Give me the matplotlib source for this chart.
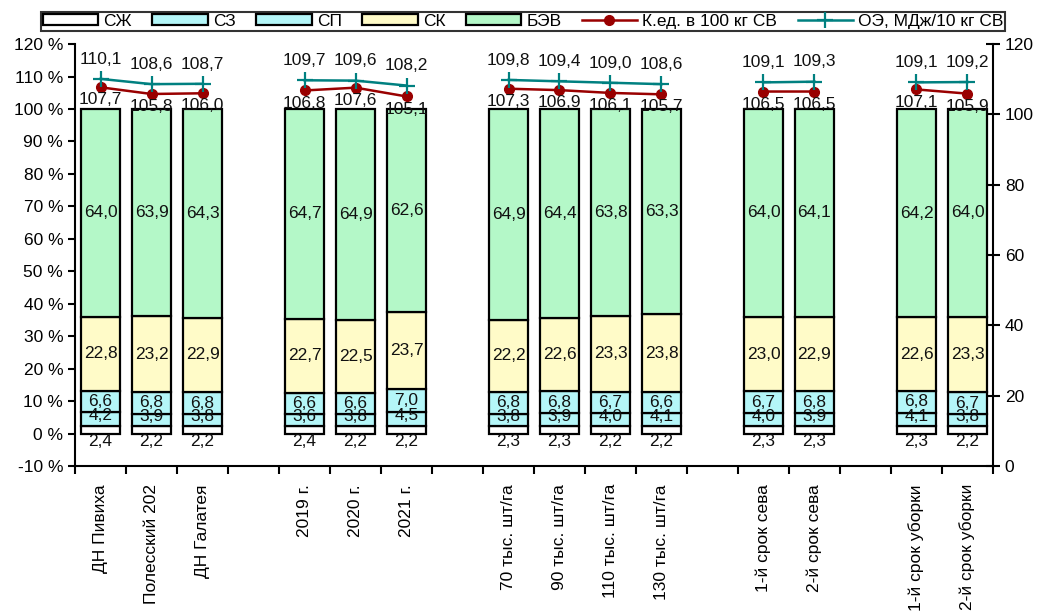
import numpy as np
import matplotlib
matplotlib.use("Agg")
import matplotlib.pyplot as plt
from matplotlib.ticker import FuncFormatter

plt.rcParams['font.family'] = ['Liberation Sans', 'DejaVu Sans']

# categories (empty strings are gaps between groups)
categories = ['ДН Пивиха', 'Полесский 202', 'ДН Галатея', '',
              '2019 г.', '2020 г.', '2021 г.', '',
              '70 тыс. шт/га', '90 тыс. шт/га', '110 тыс. шт/га', '130 тыс. шт/га', '',
              '1-й срок сева', '2-й срок сева', '',
              '1-й срок уборки', '2-й срок уборки']

nan = np.nan
szh = [2.4, 2.2, 2.2, nan, 2.4, 2.2, 2.2, nan, 2.3, 2.3, 2.2, 2.2, nan, 2.3, 2.3, nan, 2.3, 2.2]
sz = [4.2, 3.9, 3.8, nan, 3.6, 3.8, 4.5, nan, 3.8, 3.9, 4.0, 4.1, nan, 4.0, 3.9, nan, 4.1, 3.8]
sp = [6.6, 6.8, 6.8, nan, 6.6, 6.6, 7.0, nan, 6.8, 6.8, 6.7, 6.6, nan, 6.7, 6.8, nan, 6.8, 6.7]
sk = [22.8, 23.2, 22.9, nan, 22.7, 22.5, 23.7, nan, 22.2, 22.6, 23.3, 23.8, nan, 23.0, 22.9, nan, 22.6, 23.3]
bev = [64.0, 63.9, 64.3, nan, 64.7, 64.9, 62.6, nan, 64.9, 64.4, 63.8, 63.3, nan, 64.0, 64.1, nan, 64.2, 64.0]

ked = [107.7, 105.8, 106.0, nan, 106.8, 107.6, 105.1, nan, 107.3, 106.9, 106.1, 105.7, nan, 106.5, 106.5, nan, 107.1, 105.9]
oe = [110.1, 108.6, 108.7, nan, 109.7, 109.6, 108.2, nan, 109.8, 109.4, 109.0, 108.6, nan, 109.1, 109.3, nan, 109.1, 109.2]

series = [('СЖ', szh, '#ffffff'), ('СЗ', sz, '#b4f6f8'), ('СП', sp, '#b4f6f8'),
          ('СК', sk, '#fffbc8'), ('БЭВ', bev, '#b4f8c8')]


def fmt(v):
    return f'{v:.1f}'.replace('.', ',')


fig = plt.figure(figsize=(10.38, 6.12), dpi=100)
ax = fig.add_axes([0.0723, 0.2386, 0.8843, 0.6894])
x = np.arange(len(categories))
bottom = np.zeros(len(categories))
handles = []
for i, (name, vals, color) in enumerate(series):
    v = np.array(vals, dtype=float)
    b = ax.bar(x, v, 0.76, bottom=bottom, color=color, edgecolor='black', linewidth=1.6, label=name)
    handles.append(b)
    for xi, vi, bi in zip(x, v, bottom):
        if np.isnan(vi):
            continue
        if i == 0:
            y = -2.4
        elif i == 1:
            y = bi + vi / 2 + 1.0
        else:
            y = bi + vi / 2
        ax.text(xi, y, fmt(vi), ha='center', va='center', fontsize=12.5, color='#111111')
    bottom = bottom + np.nan_to_num(v)

ax.set_ylim(-10, 120)
ax.set_yticks(np.arange(-10, 121, 10))
ax.yaxis.set_major_formatter(FuncFormatter(lambda v, p: f'{int(v)} %'))
ax.set_xlim(-0.5, len(categories) - 0.5)
ax.set_xticks(x)
ax.set_xticklabels(categories, rotation=90, fontsize=12.5, va='top')
ax.tick_params(axis='x', length=0, pad=13)
ax.set_xticks(np.arange(-0.5, len(categories)), minor=True)
ax.tick_params(axis='x', which='minor', length=6, width=1.5, direction='out')
ax.tick_params(axis='y', labelsize=12.5, length=5, width=1.5, direction='out')
for s in ['top', 'right']:
    ax.spines[s].set_visible(False)
for s in ['left', 'bottom']:
    ax.spines[s].set_linewidth(1.5)

ax2 = ax.twinx()
ax2.set_ylim(0, 120)
ax2.set_yticks(np.arange(0, 121, 20))
ax2.tick_params(axis='y', labelsize=12.5, length=10, width=1.5, direction='inout')
for s in ['top', 'left', 'bottom']:
    ax2.spines[s].set_visible(False)
ax2.spines['right'].set_linewidth(1.5)

l1, = ax2.plot(x, ked, color='#990000', marker='o', markersize=7, linewidth=1.8,
               label='К.ед. в 100 кг СВ')
l2, = ax2.plot(x, oe, color='#008080', marker='+', markersize=11, markeredgewidth=1.6,
               linewidth=1.8, label='ОЭ, МДж/10 кг СВ')
for xi, a, b in zip(x, ked, oe):
    if np.isnan(a):
        continue
    ax2.text(xi, a - 3.6, fmt(a), ha='center', va='center', fontsize=12.5, color='#111111')
    ax2.text(xi, b + 5.6, fmt(b), ha='center', va='center', fontsize=12.5, color='#111111')

leg = fig.legend(handles + [l1, l2], [h.get_label() for h in handles] + [l1.get_label(), l2.get_label()],
                 loc='center', bbox_to_anchor=(0.031, 0.946, 0.946, 0.038), mode='expand',
                 ncol=7, fontsize=12.5, frameon=True, fancybox=False, borderpad=0.1,
                 handlelength=3.2, handleheight=0.6, handletextpad=0.3, columnspacing=1.5)
leg.get_frame().set_edgecolor('black')
leg.get_frame().set_linewidth(1.5)

fig.savefig('out.png', dpi=100)
